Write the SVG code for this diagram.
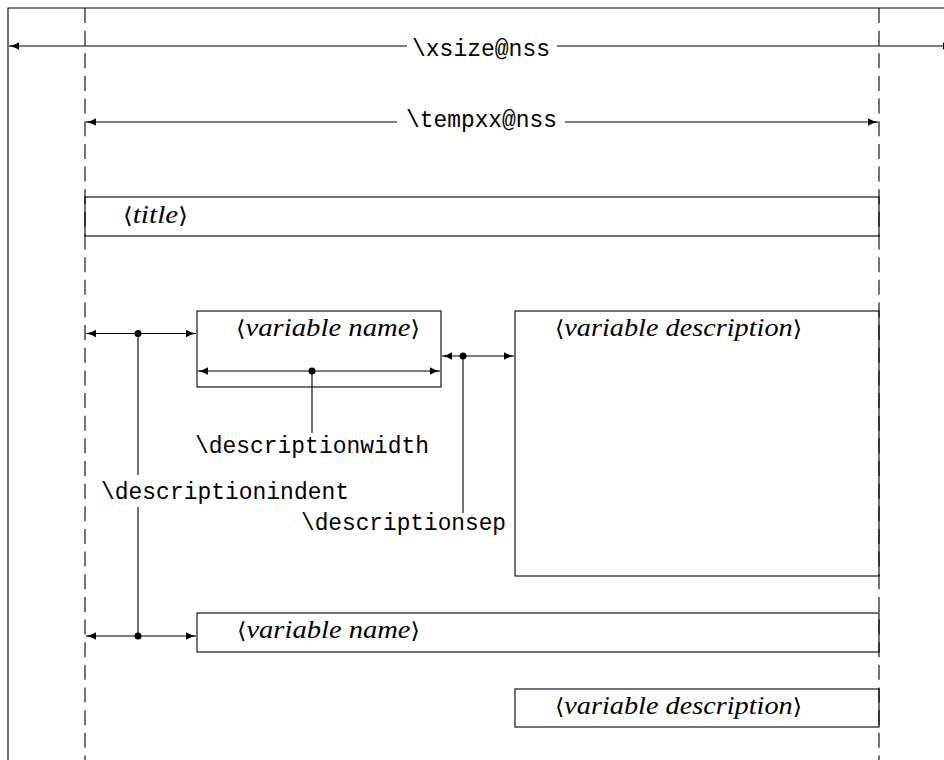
<svg xmlns="http://www.w3.org/2000/svg" width="944" height="760" viewBox="0 0 944 760">
<style>
  .ln { stroke: #000; stroke-width: 1.1; fill: none; }
  .dash { stroke: #000; stroke-width: 1.1; fill: none; stroke-dasharray: 15 7.65; }
  .box { stroke: #000; stroke-width: 1.1; fill: none; }
  .tt { font-family: "Liberation Mono", "DejaVu Sans Mono", monospace; font-size: 23px; fill: #000; }
  .it { font-family: "Liberation Serif", "DejaVu Serif", serif; font-style: italic; font-size: 26px; fill: #000; }
  .br { font-family: "DejaVu Sans", "Noto Sans", sans-serif; font-style: normal; font-size: 22px; }
  .arr { marker-start: url(#ah); marker-end: url(#ah); }
</style>
<defs>
  <marker id="ah" viewBox="0 0 10 8" refX="10" refY="4" markerWidth="10" markerHeight="8" markerUnits="userSpaceOnUse" orient="auto-start-reverse">
    <path d="M0,0.3 Q4,3 10,4 Q4,5 0,7.7 Z" fill="#000"/>
  </marker>
</defs>

<g id="frame">
  <path class="ln" d="M8,760 V8 H944"/>
  <path class="dash" d="M85,8 V760"/>
  <path class="dash" d="M879,8 V760"/>
</g>

<g id="title">
  <rect class="box" x="85" y="197" width="794" height="39"/>
  <text class="it" x="123" y="223" textLength="65" lengthAdjust="spacingAndGlyphs"><tspan class="br">⟨</tspan>title<tspan class="br">⟩</tspan></text>
</g>

<g id="varname1">
  <rect class="box" x="197" y="311" width="244" height="76"/>
  <text class="it" x="236" y="336" textLength="184" lengthAdjust="spacingAndGlyphs"><tspan class="br">⟨</tspan>variable name<tspan class="br">⟩</tspan></text>
</g>

<g id="vardesc1">
  <rect class="box" x="515" y="311" width="364" height="265"/>
  <text class="it" x="555" y="336" textLength="247" lengthAdjust="spacingAndGlyphs"><tspan class="br">⟨</tspan>variable description<tspan class="br">⟩</tspan></text>
</g>

<g id="varname2">
  <rect class="box" x="197" y="613" width="682" height="39"/>
  <text class="it" x="237" y="638" textLength="183" lengthAdjust="spacingAndGlyphs"><tspan class="br">⟨</tspan>variable name<tspan class="br">⟩</tspan></text>
</g>

<g id="vardesc2">
  <rect class="box" x="515" y="689" width="364" height="38"/>
  <text class="it" x="555" y="714" textLength="247" lengthAdjust="spacingAndGlyphs"><tspan class="br">⟨</tspan>variable description<tspan class="br">⟩</tspan></text>
</g>

<g id="labels">
  <text class="tt" x="412" y="56" textLength="138" lengthAdjust="spacingAndGlyphs">\xsize@nss</text>
  <text class="tt" x="406" y="127" textLength="151" lengthAdjust="spacingAndGlyphs">\tempxx@nss</text>
  <text class="tt" x="195" y="453" textLength="234" lengthAdjust="spacingAndGlyphs">\descriptionwidth</text>
  <text class="tt" x="101" y="499" textLength="248" lengthAdjust="spacingAndGlyphs">\descriptionindent</text>
  <text class="tt" x="301" y="530" textLength="205" lengthAdjust="spacingAndGlyphs">\descriptionsep</text>
</g>

<g id="connectors">
  <path class="ln" d="M9,46 H407" marker-start="url(#ah)"/>
  <path class="ln" d="M557,46 H953" marker-end="url(#ah)"/>
  <path class="ln" d="M86,122 H397" marker-start="url(#ah)"/>
  <path class="ln" d="M565,122 H878" marker-end="url(#ah)"/>
  <path class="ln arr" d="M86,333.5 H196"/>
  <path class="ln arr" d="M86,636 H196"/>
  <path class="ln" d="M138,333.5 V475 M138,507 V636"/>
  <circle cx="138" cy="333.5" r="3.5" fill="#000"/>
  <circle cx="138" cy="636" r="3.5" fill="#000"/>
  <path class="ln arr" d="M198,371 H440"/>
  <path class="ln" d="M312,371 V433"/>
  <circle cx="312" cy="371" r="3.5" fill="#000"/>
  <path class="ln arr" d="M442,356 H514"/>
  <path class="ln" d="M463,356 V513"/>
  <circle cx="463" cy="356" r="3.5" fill="#000"/>
</g>
</svg>
